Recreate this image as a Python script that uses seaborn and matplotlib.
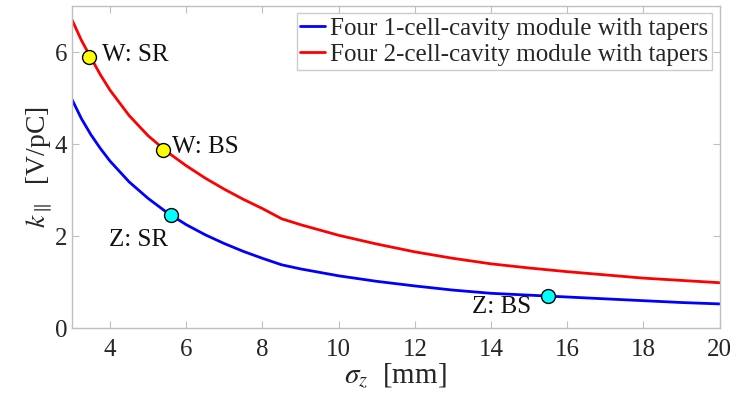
import matplotlib
matplotlib.use("Agg")
import matplotlib.pyplot as plt
import seaborn as sns
import pandas as pd

sigma = [3, 3.25, 3.5, 3.75, 4, 4.5, 5, 5.5, 6, 6.5, 7, 7.5, 8, 8.5, 9, 10, 11, 12, 13, 14, 15, 16, 17, 18, 19, 20]
k_1cell = [4.97, 4.55, 4.2, 3.9, 3.63, 3.18, 2.82, 2.51, 2.25, 2.03, 1.84, 1.67, 1.52, 1.38, 1.29, 1.14,
           1.02, 0.92, 0.83, 0.76, 0.72, 0.68, 0.64, 0.60, 0.56, 0.53]
k_2cell = [6.7, 6.25, 5.87, 5.5, 5.17, 4.62, 4.18, 3.83, 3.53, 3.26, 3.02, 2.8, 2.6, 2.38, 2.25, 2.02,
           1.83, 1.66, 1.52, 1.40, 1.31, 1.23, 1.16, 1.09, 1.04, 0.99]
series_names = ["Four 1-cell-cavity module with tapers", "Four 2-cell-cavity module with tapers"]

pt_labels = ["W: SR", "W: BS", "Z: SR", "Z: BS"]
pt_x = [3.45, 5.4, 5.6, 15.5]
pt_y = [5.9, 3.87, 2.45, 0.7]
pt_colors = ["#ffff00", "#ffff00", "#00ffff", "#00ffff"]
txt_x = [3.78, 5.63, 3.98, 13.5]
txt_y = [5.93, 3.93, 1.91, 0.46]

df = pd.DataFrame({
    "sigma": sigma * 2,
    "k": k_1cell + k_2cell,
    "series": [series_names[0]] * len(sigma) + [series_names[1]] * len(sigma),
})

sns.set_style("ticks")
plt.rcParams["font.family"] = ["Liberation Serif", "DejaVu Serif"]
plt.rcParams["mathtext.fontset"] = "stix"

fig = plt.figure(figsize=(7.36, 3.97), dpi=100)
ax = fig.add_axes([0.0978, 0.173, 0.880, 0.812])

sns.lineplot(data=df, x="sigma", y="k", hue="series", palette=["#0000ff", "#ff0000"],
             linewidth=2, ax=ax, legend=True)

for lx, ly, c in zip(pt_x, pt_y, pt_colors):
    ax.plot([lx], [ly], marker="o", markersize=10, markerfacecolor=c,
            markeredgecolor="black", markeredgewidth=1, linestyle="none", zorder=5)
for t, tx, ty in zip(pt_labels, txt_x, txt_y):
    ax.text(tx, ty, t, fontsize=18, va="center", ha="left", color="#111111")

ax.set_xlim(3, 20)
ax.set_ylim(0, 7)
ax.set_xticks([4, 6, 8, 10, 12, 14, 16, 18, 20])
ax.set_yticks([0, 2, 4, 6])
ax.tick_params(direction="in", top=True, right=True, labelsize=18, colors="#262626",
               length=5, width=0.8)
ax.tick_params(axis="x", pad=8)
for t in ax.get_xticklabels() + ax.get_yticklabels():
    t.set_color("#262626")
ax.tick_params(axis="both", color="#c0c0c0")
for s in ax.spines.values():
    s.set_color("#c0c0c0")
    s.set_linewidth(1)

ax.set_xlabel(r"$\sigma_z$  [mm]", fontsize=21, color="#262626", labelpad=0)
ax.set_ylabel(r"$k_{\parallel}$  [V/pC]", fontsize=20, color="#262626", labelpad=0)

leg = ax.legend(loc="upper right", fontsize=18, frameon=True, fancybox=False,
                handlelength=1.0, handletextpad=0.2, borderpad=0.15, labelspacing=0.15,
                borderaxespad=0.3)
leg.get_frame().set_edgecolor("#c0c0c0")
leg.get_frame().set_linewidth(1)
for line in leg.get_lines():
    line.set_linewidth(2)

fig.savefig("out.png", dpi=100)
